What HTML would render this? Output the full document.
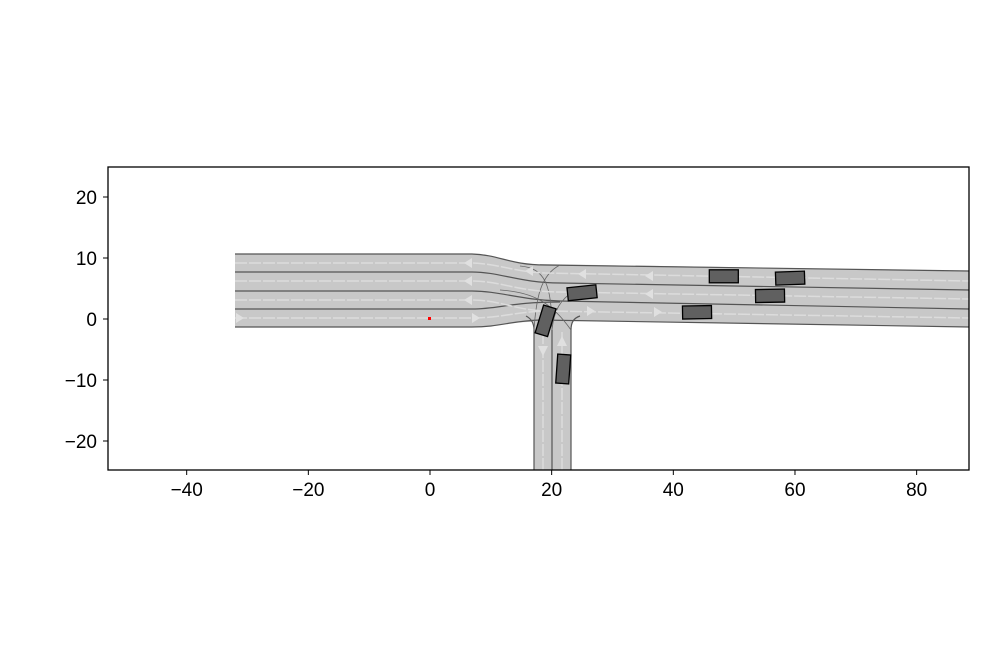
<!DOCTYPE html>
<html><head><meta charset="utf-8"><style>
html,body{margin:0;padding:0;background:#fff;}
svg text{font-family:"Liberation Sans",sans-serif;font-size:19px;fill:#000;}
</style></head><body>
<svg id="chart" width="1000" height="666" viewBox="0 0 1000 666" xmlns="http://www.w3.org/2000/svg">
<defs><clipPath id="clip"><rect x="108" y="167" width="861" height="303"/></clipPath></defs>
<g clip-path="url(#clip)">
  <path d="M235,254 L472,254 C500,255 510,265 540,265 L560,265 L560,322 L531,322 C505,322 495,327 472,327 L235,327 Z" fill="#c8c8c8"/>
  <path d="M540,264 L969,271 L969,327 L540,320 Z" fill="#c8c8c8"/>
  <path d="M534,470 L534,330 C534,322 530,318 526,316 L580,316 C574,318 571,322 571,330 L571,470 Z" fill="#c8c8c8"/>
  <g fill="none" stroke="#555" stroke-width="1.2">
    <path d="M235,254 L472,254 C500,255 510,265 545,265 L969,271"/>
    <path d="M235,272 L472,272 C500,272 520,283 560,283 L969,290"/>
    <path d="M235,291 L472,291 C500,291 520,300 560,301 L969,309"/>
    <path d="M235,309 L472,309 C500,309 510,302 560,302"/>
    <path d="M235,327 L472,327 C500,327 510,321 540,320 L969,327"/>
    <path d="M534,470 L534,330 C534,322 530,318 526,316"/>
    <path d="M571,470 L571,330 C571,322 574,318 580,316"/>
    <path d="M552,470 L552,330"/>
    <path d="M520,266 C545,268 552,285 552,330" stroke="#666" stroke-width="0.8"/>
    <path d="M560,265 C540,275 536,300 534,330" stroke="#666" stroke-width="0.8"/>
    <path d="M575,290 C560,300 554,310 552,330" stroke="#666" stroke-width="0.8"/>
    <path d="M500,290 C530,292 550,300 571,330" stroke="#666" stroke-width="0.8"/>
  </g>
  <g fill="none" stroke="#dcdcdc" stroke-width="1.5" stroke-dasharray="12,2">
    <path d="M235,263 L472,263 C500,264 515,272 545,273 L969,281"/>
    <path d="M235,281 L472,281 C500,281 520,292 560,292 L969,299"/>
    <path d="M235,300 L472,300 C500,300 515,310 545,311 L969,318"/>
    <path d="M235,318 L472,318 C500,318 515,312 545,311"/>
    <path d="M543,470 L543,330"/>
    <path d="M562,470 L562,330"/>
  </g>
  <g fill="#e0e0e0">
    <polygon points="464,263 472,258 472,268"/><polygon points="464,281 472,276 472,286"/>
    <polygon points="244,318 236,313 236,323"/><polygon points="480,318 472,313 472,323"/>
    <polygon points="464,300 472,295 472,305"/>
    <polygon points="645,276 653,271 653,281"/><polygon points="645,294 653,289 653,299"/>
    <polygon points="662,312 654,307 654,317"/><polygon points="595,311 587,306 587,316"/>
    <polygon points="578,274 586,269 586,279"/><polygon points="525,271 533,266 533,276"/>
    <polygon points="543,356 538,346 548,346"/><polygon points="562,336 557,346 567,346"/>
  </g>
  <g id="vehicles"></g>
  <rect x="428" y="317" width="3" height="3" fill="#f00"/>
</g>
<rect x="108" y="167" width="861" height="303" fill="none" stroke="#000" stroke-width="1.3"/>
<g id="xticks"></g>
<g id="yticks"></g>
</svg>
<script>
const xTicks=[-40,-20,0,20,40,60,80];
const yTicks=[20,10,0,-10,-20];
const vehX=[48.3,59.2,55.9,43.9,25,19,21.9];
const vehY=[7,6.7,3.8,1.1,4.3,-0.3,-8.2];
const vehAngle=[0,-2,-1,-1,-6,-73,-86];
function sx(v){return 430+v*6.083;}
function sy(v){return 319-v*6.1;}
const ns="http://www.w3.org/2000/svg";
const xg=document.getElementById('xticks');
xTicks.forEach(t=>{
  const l=document.createElementNS(ns,'line');
  l.setAttribute('x1',sx(t));l.setAttribute('x2',sx(t));l.setAttribute('y1',470);l.setAttribute('y2',475);l.setAttribute('stroke','#000');
  
  
  xg.appendChild(l);
  const tx=document.createElementNS(ns,'text');
  tx.setAttribute('x',sx(t));tx.setAttribute('y',496);tx.setAttribute('text-anchor','middle');
  tx.textContent=t<0?'\u2212'+(-t):String(t);
  
  
  xg.appendChild(tx);
});
const yg=document.getElementById('yticks');
yTicks.forEach(t=>{
  const l=document.createElementNS(ns,'line');
  l.setAttribute('x1',103);l.setAttribute('x2',108);l.setAttribute('y1',sy(t));l.setAttribute('y2',sy(t));l.setAttribute('stroke','#000');
  
  
  yg.appendChild(l);
  const tx=document.createElementNS(ns,'text');
  tx.setAttribute('x',97);tx.setAttribute('y',sy(t)+7);tx.setAttribute('text-anchor','end');
  tx.textContent=t<0?'\u2212'+(-t):String(t);
  
  
  yg.appendChild(tx);
});
const vg=document.getElementById('vehicles');
vehX.forEach((x,i)=>{
  const cx=sx(x),cy=sy(vehY[i]);
  const r=document.createElementNS(ns,'rect');
  r.setAttribute('x',cx-14.5);r.setAttribute('y',cy-6.5);r.setAttribute('width',29);r.setAttribute('height',13);
  r.setAttribute('fill','#606060');r.setAttribute('stroke','#000');r.setAttribute('stroke-width','1.3');
  r.setAttribute('transform','rotate('+vehAngle[i]+' '+cx+' '+cy+')');
  
  
  vg.appendChild(r);
});
</script>
</body></html>
